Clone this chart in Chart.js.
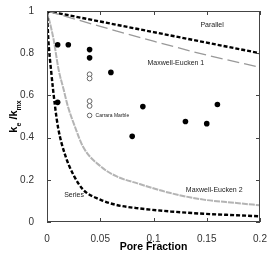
<!DOCTYPE html>
<html>
  <head>
    <meta charset="utf-8" />
    <title>Pore fraction vs conductivity</title>
    <script src="https://cdn.jsdelivr.net/npm/chart.js@4"></script>
    <style>
      body { margin: 0; background: #fff; }
    </style>
    <script>
      // model curves
      var parallelX = [0, 0.05, 0.1, 0.15, 0.2];
      var parallelY = [1, 0.95, 0.9, 0.85, 0.8];

      var me1X = [0, 0.05, 0.1, 0.15, 0.2];
      var me1Y = [1, 0.927, 0.857, 0.791, 0.733];

      var me2X = [0, 0.006, 0.011, 0.0155, 0.0195, 0.026, 0.034, 0.05, 0.065, 0.085, 0.116, 0.147, 0.178, 0.2];
      var me2Y = [1, 0.87, 0.72, 0.63, 0.55, 0.455, 0.355, 0.265, 0.217, 0.183, 0.137, 0.106, 0.09, 0.079];

      var seriesX = [0, 0.0012, 0.004, 0.0075, 0.0105, 0.017, 0.025, 0.034, 0.05, 0.065, 0.084, 0.116, 0.147, 0.178, 0.2];
      var seriesY = [1, 0.87, 0.71, 0.55, 0.445, 0.318, 0.222, 0.153, 0.106, 0.081, 0.066, 0.05, 0.039, 0.032, 0.027];

      // measured samples
      var sampleX = [0, 0.01, 0.02, 0.04, 0.04, 0.06, 0.01, 0.08, 0.09, 0.13, 0.15, 0.16];
      var sampleY = [1, 0.84, 0.84, 0.817, 0.778, 0.709, 0.567, 0.406, 0.547, 0.476, 0.466, 0.557];

      var marbleX = [0.04, 0.04, 0.04, 0.04];
      var marbleY = [0.70, 0.68, 0.573, 0.55];

      var xTicks = [0, 0.05, 0.1, 0.15, 0.2];
      var yTicks = [0, 0.2, 0.4, 0.6, 0.8, 1];

      // text labels placed in data coordinates
      var curveLabels = [
        { text: "Parallel", x: 0.155, y: 0.932 },
        { text: "Maxwell-Eucken 1", x: 0.121, y: 0.752 },
        { text: "Series", x: 0.0254, y: 0.127 },
        { text: "Maxwell-Eucken 2", x: 0.157, y: 0.151 }
      ];
      var legendPos = { x: 0.04, y: 0.505, text: "Carrara Marble" };

      function pts(xs, ys) {
        return xs.map(function (x, i) { return { x: x, y: ys[i] }; });
      }
    </script>
  </head>
  <body>
    <canvas id="chart" width="274" height="256"></canvas>
    <script>
      var fontName = "'Liberation Sans', Arial, sans-serif";

      // box, inward ticks, labels, y title with subscripts
      var decorPlugin = {
        id: "decor",
        afterDatasetsDraw: function (chart) {
          var ctx = chart.ctx;
          var a = chart.chartArea;
          var xs = chart.scales.x, ys = chart.scales.y;
          ctx.save();
          ctx.strokeStyle = "#444";
          ctx.lineWidth = 1;
          ctx.strokeRect(a.left + 0.5, a.top + 0.5, a.right - a.left - 1, a.bottom - a.top - 1);
          ctx.beginPath();
          xTicks.forEach(function (v) {
            var px = Math.round(xs.getPixelForValue(v)) + 0.5;
            ctx.moveTo(px, a.bottom); ctx.lineTo(px, a.bottom - 4);
            ctx.moveTo(px, a.top); ctx.lineTo(px, a.top + 4);
          });
          yTicks.forEach(function (v) {
            var py = Math.round(ys.getPixelForValue(v)) + 0.5;
            ctx.moveTo(a.left, py); ctx.lineTo(a.left + 4, py);
            ctx.moveTo(a.right, py); ctx.lineTo(a.right - 4, py);
          });
          ctx.stroke();

          ctx.fillStyle = "#222";
          ctx.font = "7px " + fontName;
          ctx.textAlign = "center";
          ctx.textBaseline = "middle";
          curveLabels.forEach(function (l) {
            ctx.fillText(l.text, xs.getPixelForValue(l.x), ys.getPixelForValue(l.y));
          });

          // small legend for open circles
          var lx = xs.getPixelForValue(legendPos.x), ly = ys.getPixelForValue(legendPos.y);
          ctx.beginPath();
          ctx.arc(lx, ly, 2.3, 0, Math.PI * 2);
          ctx.strokeStyle = "#666";
          ctx.stroke();
          ctx.font = "5px " + fontName;
          ctx.textAlign = "left";
          ctx.fillText(legendPos.text, lx + 6, ly);

          // y title: k_e / k_mx
          ctx.translate(13, (a.top + a.bottom) / 2);
          ctx.rotate(-Math.PI / 2);
          ctx.fillStyle = "#000";
          var parts = [
            { t: "k", f: "bold 11px ", dy: 0 },
            { t: "e", f: "bold 7px ", dy: 4 },
            { t: " /k", f: "bold 11px ", dy: 0 },
            { t: "mx", f: "bold 7px ", dy: 4 }
          ];
          var total = 0;
          parts.forEach(function (p) { ctx.font = p.f + fontName; p.w = ctx.measureText(p.t).width; total += p.w; });
          var cx = -total / 2;
          ctx.textAlign = "left";
          ctx.textBaseline = "alphabetic";
          parts.forEach(function (p) {
            ctx.font = p.f + fontName;
            ctx.fillText(p.t, cx, 4 + p.dy);
            cx += p.w;
          });
          ctx.restore();
        }
      };

      var curveStyle = {
        showLine: true,
        pointRadius: 0,
        fill: false,
        cubicInterpolationMode: "monotone"
      };

      function plainNum(v) {
        return String(Math.round(v * 1000) / 1000);
      }

      new Chart(document.getElementById("chart").getContext("2d"), {
        type: "scatter",
        data: {
          datasets: [
            { label: "Carrara Marble", data: pts(marbleX, marbleY), pointRadius: 2.4, pointBackgroundColor: "#fff", pointBorderColor: "#666", pointBorderWidth: 1, order: 0 },
            { label: "Samples", data: pts(sampleX, sampleY), pointRadius: 2.8, pointBackgroundColor: "#000", pointBorderColor: "#000", pointBorderWidth: 0, order: 1 },
            Object.assign({ label: "Parallel", data: pts(parallelX, parallelY), borderColor: "#000", borderWidth: 2.4, borderDash: [4, 2], order: 5 }, curveStyle),
            Object.assign({ label: "Maxwell-Eucken 1", data: pts(me1X, me1Y), borderColor: "#999", borderWidth: 1.3, borderDash: [12, 5], order: 4 }, curveStyle),
            Object.assign({ label: "Maxwell-Eucken 2", data: pts(me2X, me2Y), borderColor: "#b4b4b4", borderWidth: 2, borderDash: [6, 1], order: 3 }, curveStyle),
            Object.assign({ label: "Series", data: pts(seriesX, seriesY), borderColor: "#000", borderWidth: 2.4, borderDash: [4, 2], order: 2 }, curveStyle)
          ]
        },
        options: {
          responsive: false,
          animation: false,
          devicePixelRatio: 1,
          layout: { padding: { top: 10, right: 14, left: 0, bottom: 0 } },
          plugins: { legend: { display: false }, tooltip: { enabled: false } },
          scales: {
            x: {
              type: "linear",
              min: 0,
              max: 0.2,
              afterBuildTicks: function (s) { s.ticks = xTicks.map(function (v) { return { value: v }; }); },
              afterFit: function (s) { s.height = 34; },
              grid: { display: false },
              border: { display: false },
              ticks: { color: "#333", font: { family: fontName, size: 10 }, padding: 3, callback: plainNum },
              title: { display: true, text: "Pore Fraction", color: "#000", font: { family: fontName, size: 10.5, weight: "bold" }, padding: { top: 0, bottom: 3 } }
            },
            y: {
              type: "linear",
              min: 0,
              max: 1,
              afterBuildTicks: function (s) { s.ticks = yTicks.map(function (v) { return { value: v }; }); },
              afterFit: function (s) { s.width = 47; },
              grid: { display: false },
              border: { display: false },
              ticks: { color: "#333", font: { family: fontName, size: 10 }, padding: 5, callback: plainNum }
            }
          }
        },
        plugins: [decorPlugin]
      });
    </script>
  </body>
</html>
